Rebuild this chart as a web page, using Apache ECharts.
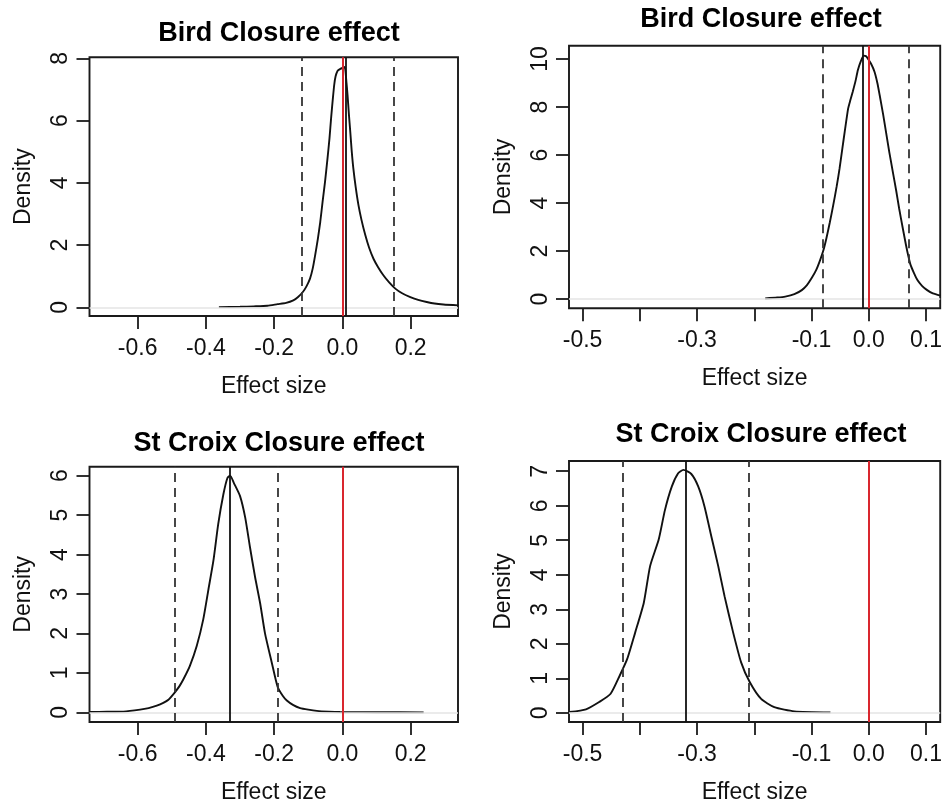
<!DOCTYPE html>
<html>
<head>
<meta charset="utf-8">
<title>Closure effect posterior densities</title>
<script src="https://cdn.jsdelivr.net/npm/echarts@6/dist/echarts.min.js"></script>
<style>
  html, body { margin: 0; padding: 0; background: #fff; }
  #chart { width: 945px; height: 805px; }
</style>
</head>
<body>
<div id="chart"></div>
<script>
// Posterior density curves of the closure effect (effect size vs density)

// Panel 1: Bird Closure effect (left)
const birdA_x = [-0.362, -0.30, -0.26, -0.22, -0.19, -0.165, -0.144, -0.13, -0.116, -0.105, -0.095, -0.087, -0.080, -0.072, -0.065, -0.058, -0.051, -0.044, -0.038, -0.033, -0.028, -0.024, -0.020, -0.014, -0.006, 0.003, 0.007, 0.012, 0.015, 0.019, 0.023, 0.027, 0.032, 0.039, 0.047, 0.056, 0.067, 0.078, 0.091, 0.105, 0.120, 0.137, 0.155, 0.175, 0.199, 0.222, 0.247, 0.270, 0.296, 0.340];
const birdA_y = [0.005, 0.015, 0.03, 0.05, 0.10, 0.14, 0.22, 0.33, 0.49, 0.68, 0.92, 1.25, 1.67, 2.20, 2.74, 3.40, 4.03, 4.75, 5.42, 6.10, 6.71, 7.15, 7.42, 7.60, 7.66, 7.70, 7.72, 7.20, 6.82, 6.20, 5.64, 5.05, 4.46, 3.85, 3.28, 2.80, 2.32, 1.92, 1.56, 1.28, 1.03, 0.80, 0.60, 0.45, 0.33, 0.24, 0.17, 0.12, 0.09, 0.06];
const birdA_ci = [-0.116, 0.155];
const birdA_mean = 0.010;

// Panel 2: Bird Closure effect (right)
const birdB_x = [-0.181, -0.160, -0.146, -0.130, -0.117, -0.108, -0.100, -0.092, -0.085, -0.079, -0.074, -0.068, -0.062, -0.056, -0.051, -0.046, -0.042, -0.036, -0.032, -0.028, -0.023, -0.019, -0.014, -0.009, -0.005, -0.002, 0.004, 0.010, 0.015, 0.019, 0.025, 0.030, 0.036, 0.042, 0.048, 0.053, 0.059, 0.065, 0.069, 0.073, 0.079, 0.085, 0.093, 0.102, 0.112, 0.125];
const birdB_y = [0.02, 0.06, 0.10, 0.20, 0.37, 0.58, 0.86, 1.20, 1.62, 2.05, 2.53, 3.20, 3.92, 4.70, 5.44, 6.30, 6.97, 7.94, 8.30, 8.64, 9.10, 9.54, 9.90, 10.14, 10.12, 10.03, 9.80, 9.47, 9.00, 8.50, 7.70, 6.97, 6.10, 5.30, 4.50, 3.78, 3.00, 2.25, 1.80, 1.42, 1.08, 0.79, 0.55, 0.37, 0.23, 0.14];
const birdB_ci = [-0.0844, 0.071];
const birdB_mean = -0.0066;

// Panel 3: St Croix Closure effect (left)
const croixA_x = [-0.740, -0.690, -0.642, -0.593, -0.568, -0.544, -0.525, -0.510, -0.491, -0.478, -0.466, -0.447, -0.427, -0.408, -0.393, -0.378, -0.364, -0.349, -0.337, -0.329, -0.318, -0.300, -0.285, -0.271, -0.256, -0.241, -0.227, -0.207, -0.190, -0.175, -0.163, -0.145, -0.124, -0.100, -0.075, -0.040, -0.007, 0.100, 0.238];
const croixA_y = [0.01, 0.015, 0.02, 0.07, 0.11, 0.17, 0.24, 0.32, 0.51, 0.66, 0.84, 1.18, 1.68, 2.35, 3.10, 3.85, 4.77, 5.52, 5.94, 6.00, 5.81, 5.48, 4.94, 4.19, 3.43, 2.76, 2.01, 1.26, 0.65, 0.42, 0.30, 0.19, 0.11, 0.07, 0.04, 0.02, 0.01, 0.005, 0.0];
const croixA_ci = [-0.4906, -0.1895];
const croixA_mean = -0.330;

// Panel 4: St Croix Closure effect (right)
const croixB_x = [-0.523, -0.494, -0.471, -0.451, -0.435, -0.422, -0.408, -0.393, -0.382, -0.367, -0.356, -0.344, -0.333, -0.324, -0.310, -0.298, -0.287, -0.275, -0.263, -0.252, -0.237, -0.223, -0.208, -0.188, -0.165, -0.130, -0.067];
const croixB_y = [0.02, 0.10, 0.31, 0.55, 1.08, 1.56, 2.33, 3.19, 4.25, 5.02, 5.88, 6.56, 6.94, 7.04, 6.92, 6.56, 5.98, 5.11, 4.25, 3.38, 2.33, 1.46, 0.89, 0.40, 0.16, 0.04, 0.01];
const croixB_ci = [-0.435, -0.2144];
const croixB_mean = -0.3224;

// Titles and axis tick positions
const titles = ['Bird Closure effect', 'Bird Closure effect', 'St Croix Closure effect', 'St Croix Closure effect'];
const xTicksWide = [-0.6, -0.4, -0.2, 0.0, 0.2];
const xTicksNarrow = [-0.5, -0.4, -0.3, -0.2, -0.1, 0.0, 0.1];
const xLabelsNarrow = [-0.5, -0.3, -0.1, 0.0, 0.1];
const yTicks1 = [0, 2, 4, 6, 8];
const yTicks2 = [0, 2, 4, 6, 8, 10];
const yTicks3 = [0, 1, 2, 3, 4, 5, 6];
const yTicks4 = [0, 1, 2, 3, 4, 5, 6, 7];
const zeroRef = 0;

const FONT = '"Liberation Sans", Arial, Helvetica, sans-serif';
const INK = '#111';

const panels = [
  { x: birdA_x, y: birdA_y, ci: birdA_ci, mean: birdA_mean,
    grid: { left: 89.5, top: 57.3, width: 368.5, height: 258.7 },
    xr: [-0.7412, 0.3387], yr: [-0.28, 8.032],
    xt: xTicksWide, xl: xTicksWide, yt: yTicks1, title: { cx: 274, top: 15 } },
  { x: birdB_x, y: birdB_y, ci: birdB_ci, mean: birdB_mean,
    grid: { left: 569, top: 45.7, width: 374.3, height: 262.6 },
    xr: [-0.5237, 0.1248], yr: [-0.3875, 10.554],
    xt: xTicksNarrow, xl: xLabelsNarrow, yt: yTicks2, title: { cx: 756, top: 1 } },
  { x: croixA_x, y: croixA_y, ci: croixA_ci, mean: croixA_mean,
    grid: { left: 89.5, top: 466.7, width: 368.5, height: 258.3 },
    xr: [-0.7412, 0.3387], yr: [-0.243, 6.225],
    xt: xTicksWide, xl: xTicksWide, yt: yTicks3, title: { cx: 274, top: 425 } },
  { x: croixB_x, y: croixB_y, ci: croixB_ci, mean: croixB_mean,
    grid: { left: 569, top: 461, width: 373.7, height: 262.3 },
    xr: [-0.5237, 0.1248], yr: [-0.268, 7.297],
    xt: xTicksNarrow, xl: xLabelsNarrow, yt: yTicks4, title: { cx: 756, top: 416 } }
];

const option = {
  animation: false,
  backgroundColor: '#fff',
  title: [],
  grid: [],
  xAxis: [],
  yAxis: [],
  series: []
};

panels.forEach((p, i) => {
  option.title.push({
    text: titles[i],
    left: p.title.cx,
    top: p.title.top,
    textAlign: 'center',
    textStyle: { fontFamily: FONT, fontSize: 27, fontWeight: 'bold', color: '#000' }
  });

  option.grid.push(Object.assign({
    show: true, borderColor: '#1a1a1a', borderWidth: 1.9, backgroundColor: 'transparent',
    containLabel: false
  }, p.grid));

  option.xAxis.push({
    gridIndex: i, type: 'value', min: p.xr[0], max: p.xr[1],
    axisLine: { show: false, onZero: false },
    splitLine: { show: false },
    axisTick: { show: true, inside: false, length: 13, customValues: p.xt,
      lineStyle: { color: '#1a1a1a', width: 1.8 } },
    axisLabel: { customValues: p.xl, formatter: v => v.toFixed(1), margin: 21,
      fontFamily: FONT, fontSize: 23, color: INK },
    name: 'Effect size', nameLocation: 'middle', nameGap: 59,
    nameTextStyle: { fontFamily: FONT, fontSize: 23, color: INK }
  });

  option.yAxis.push({
    gridIndex: i, type: 'value', min: p.yr[0], max: p.yr[1],
    axisLine: { show: false, onZero: false },
    splitLine: { show: false },
    axisTick: { show: true, inside: false, length: 13, customValues: p.yt,
      lineStyle: { color: '#1a1a1a', width: 1.8 } },
    axisLabel: { customValues: p.yt, rotate: 90, formatter: v => String(v), margin: 17,
      fontFamily: FONT, fontSize: 23, color: INK },
    name: 'Density', nameLocation: 'middle', nameGap: 54,
    nameTextStyle: { fontFamily: FONT, fontSize: 23, color: INK }
  });

  option.series.push({
    type: 'line',
    xAxisIndex: i, yAxisIndex: i,
    data: p.x.map((v, k) => [v, p.y[k]]),
    showSymbol: false, symbol: 'none', smooth: 0.2, clip: true,
    lineStyle: { color: '#111', width: 1.9 },
    z: 3,
    markLine: {
      silent: true, symbol: ['none', 'none'], label: { show: false },
      animation: false,
      data: [
        { yAxis: zeroRef, lineStyle: { color: '#e4e4e4', width: 1.6, type: 'solid' } },
        { xAxis: p.ci[0], lineStyle: { color: '#333', width: 1.8, type: [9, 6] } },
        { xAxis: p.ci[1], lineStyle: { color: '#333', width: 1.8, type: [9, 6] } },
        { xAxis: p.mean, lineStyle: { color: '#111', width: 1.8, type: 'solid' } },
        { xAxis: zeroRef, lineStyle: { color: '#d9262e', width: 2, type: 'solid' } }
      ]
    }
  });
});

const chart = echarts.init(document.getElementById('chart'), null, { renderer: 'canvas' });
chart.setOption(option);
</script>
</body>
</html>
